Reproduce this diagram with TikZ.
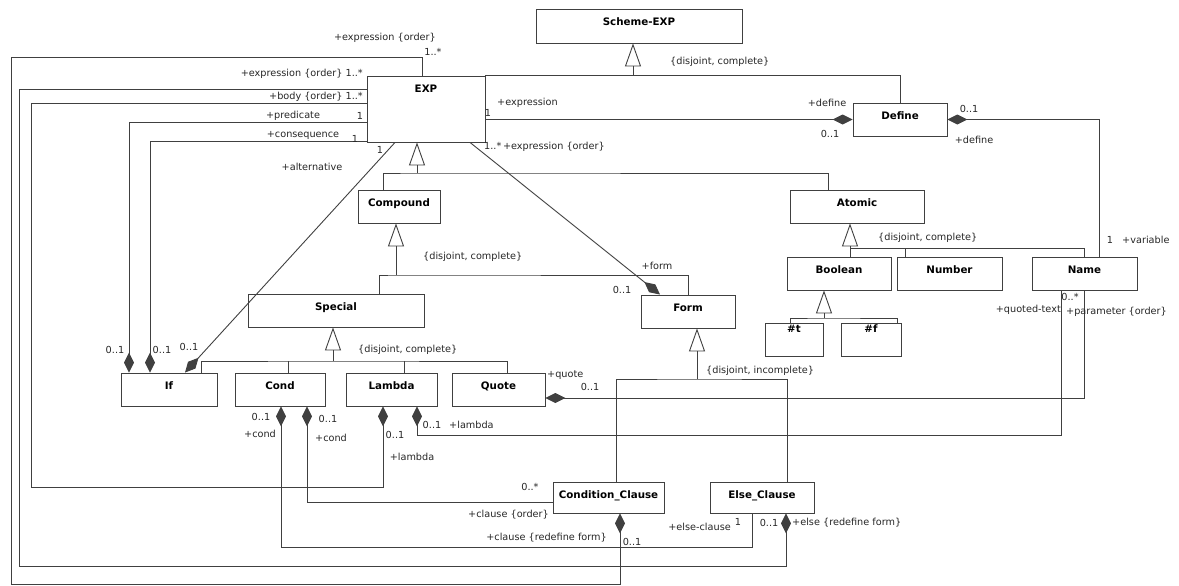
\documentclass[tikz,border=0pt]{standalone}
\usepackage{fontspec}
\setmainfont{DejaVu Sans}
\usetikzlibrary{arrows.meta}

\tikzstyle{cls} = [rectangle, draw = black!75, line width = 0.9pt, fill = white, inner sep = 0pt]
\tikzstyle{title} = [font = \bfseries\fontsize{10.3}{12}\selectfont, inner sep = 1pt, anchor = north, yshift = -8pt]
\tikzstyle{small} = [font = \bfseries\fontsize{10.3}{12}\selectfont, inner sep = 1pt, anchor = north, yshift = -1pt]
\tikzstyle{lbl} = [font = \fontsize{9.7}{11}\selectfont, text = black!85, inner sep = 0pt]
\tikzstyle{line} = [line width = 0.9pt, draw = black!75]
\tikzstyle{gen} = [line, -{Triangle[open, length = 23pt, width = 16pt]}]
\tikzstyle{comp} = [line, -{Diamond[length = 20pt, width = 10pt]}]

\begin{document}
\begin{tikzpicture}[x = 1pt, y = -1pt]
    \useasboundingbox (0,0) rectangle (1179,586);
    % classes
    \node(schemeexp)[cls, minimum width = 206pt, minimum height = 34pt, label = {[title]north:Scheme-EXP}] at (639,26) {};
    \node(exp)[cls, minimum width = 118pt, minimum height = 66pt, label = {[title]north:EXP}] at (426,109) {};
    \node(define)[cls, minimum width = 94pt, minimum height = 33pt, label = {[title]north:Define}] at (900,119.5) {};
    \node(compound)[cls, minimum width = 82pt, minimum height = 33pt, label = {[title]north:Compound}] at (399,206.5) {};
    \node(atomic)[cls, minimum width = 134pt, minimum height = 33pt, label = {[title]north:Atomic}] at (857,206.5) {};
    \node(special)[cls, minimum width = 176pt, minimum height = 33pt, label = {[title]north:Special}] at (336,310.5) {};
    \node(form)[cls, minimum width = 94pt, minimum height = 33pt, label = {[title]north:Form}] at (688,311.5) {};
    \node(boolean)[cls, minimum width = 104pt, minimum height = 33pt, label = {[title]north:Boolean}] at (839,273.5) {};
    \node(number)[cls, minimum width = 105pt, minimum height = 33pt, label = {[title]north:Number}] at (949.5,273.5) {};
    \node(name)[cls, minimum width = 105pt, minimum height = 33pt, label = {[title]north:Name}] at (1084.5,273.5) {};
    \node(t)[cls, minimum width = 58pt, minimum height = 33pt, label = {[small]north:\#t}] at (794,339.5) {};
    \node(f)[cls, minimum width = 60pt, minimum height = 33pt, label = {[small]north:\#f}] at (871,339.5) {};
    \node(if)[cls, minimum width = 96pt, minimum height = 33pt, label = {[title]north:If}] at (169,389.5) {};
    \node(cond)[cls, minimum width = 90pt, minimum height = 33pt, label = {[title]north:Cond}] at (280,389.5) {};
    \node(lambda)[cls, minimum width = 91pt, minimum height = 33pt, label = {[title]north:Lambda}] at (391.5,389.5) {};
    \node(quote)[cls, minimum width = 93pt, minimum height = 33pt, label = {[title]north:Quote}] at (498.5,389.5) {};
    \node(condcl)[cls, minimum width = 111pt, minimum height = 31pt, label = {[title]north:Condition\_Clause}] at (608.5,497.5) {};
    \node(elsecl)[cls, minimum width = 104pt, minimum height = 31pt, label = {[title]north:Else\_Clause}] at (762,497.5) {};

    % generalisations
    \coordinate(g0) at (633,76);
    \draw[line] (exp.north east) -| (define.north);
    \draw[gen] (g0) -- (g0 |- schemeexp.south);
    \coordinate(g1) at (417,173);
    \draw[line] ([xshift=-16pt]compound.north) |- (g1) -| ([xshift=-29pt]atomic.north);
    \draw[gen] (g1) -- (g1 |- exp.south);
    \coordinate(g2) at (396,275);
    \draw[line] ([xshift=43pt]special.north) |- (g2) -| (form.north);
    \draw[gen] (g2) -- (g2 |- compound.south);
    \coordinate(g3) at (333,361);
    \draw[line] ([xshift=32pt]if.north) |- (g3) -| ([xshift=8.5pt]quote.north);
    \draw[line] ([xshift=8pt]cond.north) -- ([xshift=8pt]cond.north |- g3);
    \draw[line] ([xshift=13pt]lambda.north) -- ([xshift=13pt]lambda.north |- g3);
    \draw[gen] (g3) -- (g3 |- special.south);
    \coordinate(g4) at (850,248);
    \draw[line] ([xshift=11pt]boolean.north) |- (g4) -| (name.north);
    \draw[line] ([xshift=-44.5pt]number.north) -- ([xshift=-44.5pt]number.north |- g4);
    \draw[gen] (g4) -- (g4 |- atomic.south);
    \coordinate(g5) at (824,318);
    \draw[line] ([xshift=-4pt]t.north) |- (g5) -| ([xshift=26pt]f.north);
    \draw[gen] (g5) -- (g5 |- boolean.south);
    \coordinate(g6) at (697,379);
    \draw[line] ([xshift=7.5pt]condcl.north) |- (g6) -| ([xshift=25pt]elsecl.north);
    \draw[gen] (g6) -- (g6 |- form.south);

    % compositions
    \coordinate(o1) at (11,57);
    \coordinate(o1b) at (11,584);
    \draw[comp] ([xshift=-4pt]exp.north) |- (o1) -- (o1b) -| ([xshift=11.5pt]condcl.south);
    \coordinate(o2) at (19,89);
    \coordinate(o2b) at (19,566);
    \draw[comp] (exp.west |- o2) -- (o2) -- (o2b) -| ([xshift=24pt]elsecl.south);
    \coordinate(o3) at (31,103);
    \coordinate(o3b) at (31,487);
    \draw[comp] (exp.west |- o3) -- (o3) -- (o3b) -| ([xshift=-8.5pt]lambda.south);
    \coordinate(o4) at (129,122);
    \draw[comp] (exp.west |- o4) -| ([xshift=-40pt]if.north);
    \coordinate(o5) at (150,141);
    \draw[comp] (exp.west |- o5) -| ([xshift=-19pt]if.north);
    \draw[comp] ([xshift=-31pt]exp.south) -- ([xshift=16pt]if.north);
    \draw[comp] (define.west -| exp.east) -- (define.west);
    \draw[comp] ([xshift=44pt]exp.south) -- ([xshift=-28pt]form.north);
    \draw[comp] ([xshift=14.5pt]name.north) |- (define.east);
    \draw[comp] (name.south) |- ([yshift=-8.5pt]quote.east);
    \coordinate(n2) at (1061,435);
    \draw[comp] ([xshift=-23.5pt]name.south) -- (n2) -| ([xshift=25.5pt]lambda.south);
    \draw[comp] ([yshift=-4.5pt]condcl.west) -| ([xshift=27pt]cond.south);
    \coordinate(c2) at (281,547);
    \draw[comp] ([xshift=-10pt]elsecl.south) |- (c2) -- ([xshift=1pt]cond.south);

    % role names and multiplicities
    \node(l1)[lbl, anchor = east] at (436,38) {+expression \{order\}};
    \node(m1)[lbl] at (433,52) {1..*};
    \node(l2)[lbl, anchor = east] at (363,74) {+expression \{order\} 1..*};
    \node(l3)[lbl, anchor = east] at (363,97) {+body \{order\} 1..*};
    \node(l4)[lbl] at (293,116) {+predicate};
    \node(m4)[lbl] at (360,116) {1};
    \node(l5)[lbl] at (303,135) {+consequence};
    \node(m5)[lbl] at (355,139) {1};
    \node(m6)[lbl] at (380,150) {1};
    \node(l6)[lbl] at (312,167) {+alternative};
    \node(m7)[lbl] at (488,113) {1};
    \node(l7)[lbl, anchor = west] at (497,103) {+expression};
    \node(l8)[lbl, anchor = west] at (484,147) {1..*\,+expression \{order\}};
    \node(d0)[lbl, anchor = west] at (670,62) {\{disjoint, complete\}};
    \node(l9)[lbl] at (827,103) {+define};
    \node(m9)[lbl] at (830,134) {0..1};
    \node(m10)[lbl] at (969,109) {0..1};
    \node(l10)[lbl] at (974,140) {+define};
    \node(d2)[lbl, anchor = west] at (423,257) {\{disjoint, complete\}};
    \node(l11)[lbl] at (657,266) {+form};
    \node(m11)[lbl] at (622,290) {0..1};
    \node(d4)[lbl, anchor = west] at (878,238) {\{disjoint, complete\}};
    \node(m12)[lbl] at (1110,240) {1};
    \node(l12)[lbl, anchor = west] at (1122,240) {+variable};
    \node(m13)[lbl] at (1070,297) {0..*};
    \node(l13)[lbl, anchor = east] at (1061,310) {+quoted-text};
    \node(l14)[lbl, anchor = west] at (1066,312) {+parameter \{order\}};
    \node(d3)[lbl, anchor = west] at (358,350) {\{disjoint, complete\}};
    \node(m14)[lbl] at (115,350) {0..1};
    \node(m15)[lbl] at (162,350) {0..1};
    \node(m16)[lbl] at (189,347) {0..1};
    \node(l15)[lbl, anchor = west] at (547,375) {+quote};
    \node(m17)[lbl] at (590,387) {0..1};
    \node(d6)[lbl, anchor = west] at (706,371) {\{disjoint, incomplete\}};
    \node(m18)[lbl] at (261,417) {0..1};
    \node(l18)[lbl] at (260,434) {+cond};
    \node(m19)[lbl] at (328,419) {0..1};
    \node(l19)[lbl] at (331,438) {+cond};
    \node(m20)[lbl] at (395,435) {0..1};
    \node(l20)[lbl] at (412,457) {+lambda};
    \node(m21)[lbl] at (432,425) {0..1};
    \node(l21)[lbl, anchor = west] at (449,425) {+lambda};
    \node(m22)[lbl] at (530,487) {0..*};
    \node(l22)[lbl, anchor = east] at (549,515) {+clause \{order\}};
    \node(l23)[lbl, anchor = east] at (607,538) {+clause \{redefine form\}};
    \node(m23)[lbl] at (632,542) {0..1};
    \node(l24)[lbl, anchor = east] at (731,527) {+else-clause};
    \node(m24)[lbl] at (738,522) {1};
    \node(m25)[lbl] at (769,523) {0..1};
    \node(l25)[lbl, anchor = west] at (792,523) {+else \{redefine form\}};
\end{tikzpicture}
\end{document}
